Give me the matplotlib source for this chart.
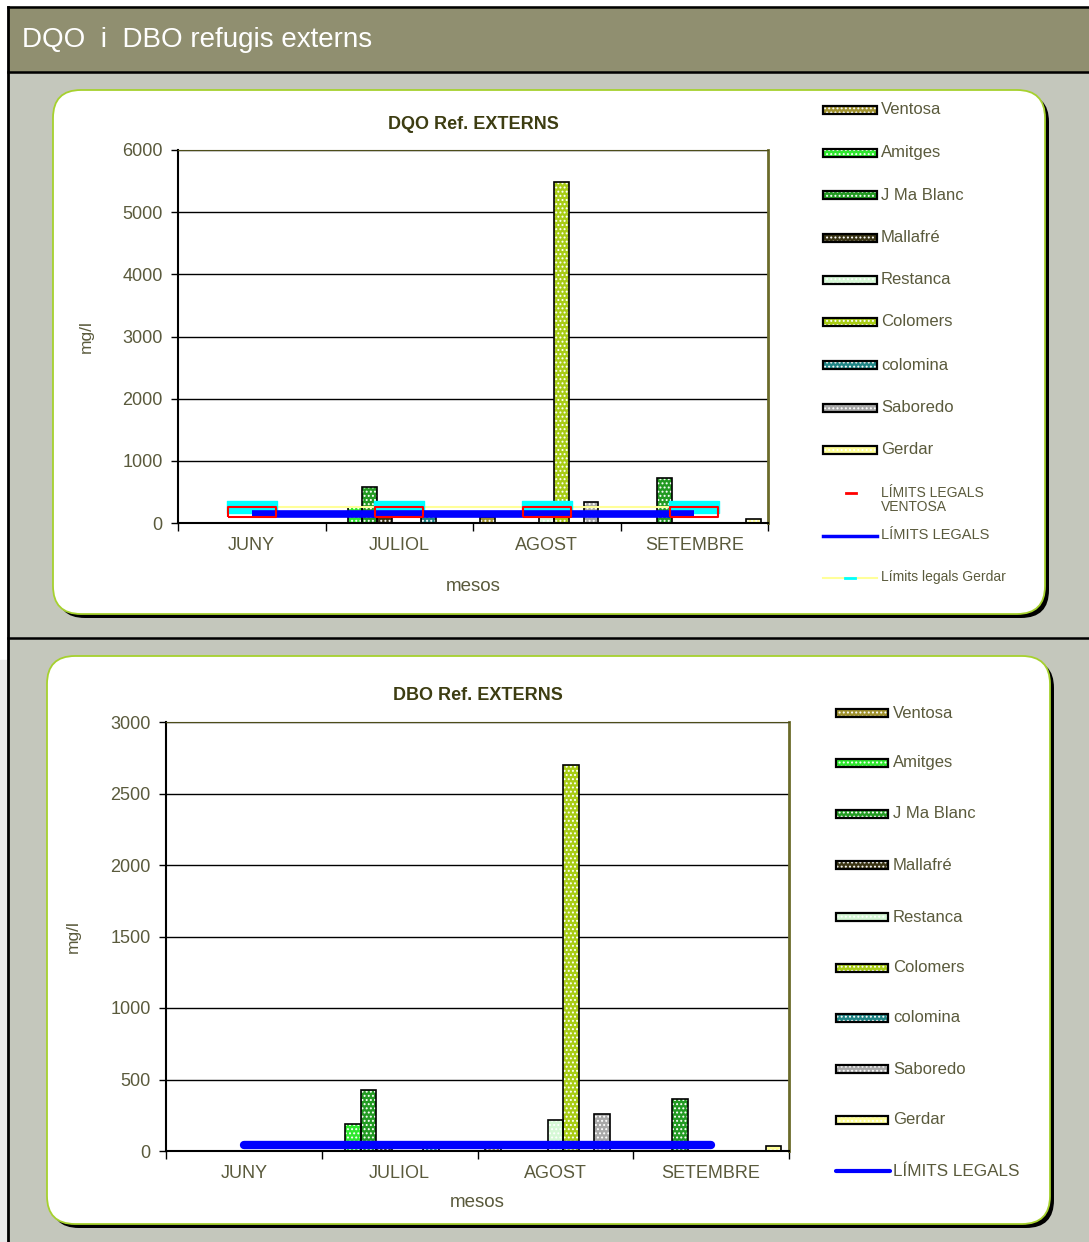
import numpy as np
import matplotlib
matplotlib.use("Agg")
import matplotlib.pyplot as plt
from matplotlib.patches import FancyBboxPatch, Rectangle

plt.rcParams['font.family'] = ['Liberation Sans', 'DejaVu Sans']
plt.rcParams['hatch.linewidth'] = 0.9

W, H = 1089, 1242

# categories and series
months = ['JUNY', 'JULIOL', 'AGOST', 'SETEMBRE']
stations = ['Ventosa', 'Amitges', 'J Ma Blanc', 'Mallafré', 'Restanca',
            'Colomers', 'colomina', 'Saboredo', 'Gerdar']
colors = ['#a0922e', '#2ee82e', '#229a22', '#3a3414', '#d6f8d6',
          '#a8cc14', '#1f8585', '#a8a8a8', '#ffff99']

# DQO (mg/l)
dqo_ventosa = [0, 0, 100, 0]
dqo_amitges = [0, 250, 0, 0]
dqo_jmablanc = [0, 580, 0, 720]
dqo_mallafre = [0, 100, 0, 0]
dqo_restanca = [0, 0, 120, 0]
dqo_colomers = [0, 0, 5480, 0]
dqo_colomina = [0, 110, 0, 0]
dqo_saboredo = [0, 0, 330, 0]
dqo_gerdar = [0, 0, 0, 60]
dqo_limit = [150, 150, 150, 150]
dqo_limit_ventosa = [180, 180, 180, 180]
dqo_limit_gerdar = [250, 250, 250, 250]

# DBO (mg/l)
dbo_ventosa = [0, 0, 20, 0]
dbo_amitges = [0, 190, 0, 0]
dbo_jmablanc = [0, 430, 0, 365]
dbo_mallafre = [0, 20, 0, 0]
dbo_restanca = [0, 0, 220, 0]
dbo_colomers = [0, 0, 2700, 0]
dbo_colomina = [0, 20, 0, 0]
dbo_saboredo = [0, 0, 260, 0]
dbo_gerdar = [0, 0, 0, 35]
dbo_limit = [40, 40, 40, 40]

dqo_series = [dqo_ventosa, dqo_amitges, dqo_jmablanc, dqo_mallafre, dqo_restanca,
              dqo_colomers, dqo_colomina, dqo_saboredo, dqo_gerdar]
dbo_series = [dbo_ventosa, dbo_amitges, dbo_jmablanc, dbo_mallafre, dbo_restanca,
              dbo_colomers, dbo_colomina, dbo_saboredo, dbo_gerdar]

TXT = '#5a5a3c'
TITLE = '#3d3d12'


def px_rect(x0, y0, x1, y1):
    return [x0 / W, 1 - y1 / H, (x1 - x0) / W, (y1 - y0) / H]


fig = plt.figure(figsize=(W / 100, H / 100), dpi=100)

# background, header and panels drawn in pixel coordinates
bg = fig.add_axes([0, 0, 1, 1], zorder=0)
bg.set_xlim(0, W)
bg.set_ylim(H, 0)
bg.axis('off')
bg.add_patch(Rectangle((0, 0), W, H, color='white'))
bg.add_patch(Rectangle((0, 660), 8, H - 660, color='#e9e9e9'))
bg.add_patch(Rectangle((8, 7), W - 8, H - 7, color='#c4c7bc'))
bg.add_patch(Rectangle((8, 7), W - 8, 65, color='#908f70'))
bg.plot([8, W], [7, 7], color='black', lw=1.8)
bg.plot([8, W], [72, 72], color='black', lw=1.8)
bg.plot([8, 8], [7, H], color='black', lw=2)
bg.plot([8, W], [638, 638], color='black', lw=1.8)
bg.text(22, 40, 'DQO  i  DBO refugis externs', color='white', fontsize=20,
        va='center', ha='left')

for (x0, y0, x1, y1) in [(53, 90, 1045, 614), (47, 656, 1050, 1224)]:
    bg.add_patch(FancyBboxPatch((x0 + 4, y0 + 4), x1 - x0, y1 - y0,
                                boxstyle='round,pad=0,rounding_size=28',
                                facecolor='black', edgecolor='none'))
    bg.add_patch(FancyBboxPatch((x0, y0), x1 - x0, y1 - y0,
                                boxstyle='round,pad=0,rounding_size=28',
                                facecolor='white', edgecolor='#a6d12e', lw=1.3))


def swatch(x, y, w, h, color):
    bg.add_patch(Rectangle((x, y - h / 2), w, h, facecolor=color, edgecolor='white',
                           hatch='....', lw=0))
    bg.add_patch(Rectangle((x, y - h / 2), w, h, facecolor='none', edgecolor='black',
                           lw=1.6))


def draw_bars(ax, series):
    x = np.arange(len(months))
    for j, vals in enumerate(series):
        pos = x + (j - 4) * 0.1
        ax.bar(pos, vals, 0.1, color=colors[j], edgecolor='white', hatch='....',
               lw=0, zorder=2)
        ax.bar(pos, vals, 0.1, facecolor='none', edgecolor='black', lw=1.2, zorder=2.1)


def style_axes(ax, yticks, title, title_pad, ylab_x, xlab_pad):
    ax.set_xlim(-0.5, 3.5)
    ax.set_ylim(yticks[0], yticks[-1])
    ax.set_yticks(yticks)
    ax.set_xticks(range(len(months)))
    ax.set_xticklabels(months)
    ax.set_xticks(np.arange(-0.5, 4, 1), minor=True)
    ax.tick_params(axis='x', which='major', length=0, pad=10, labelsize=13,
                   labelcolor=TXT)
    ax.tick_params(axis='x', which='minor', length=6, width=1, direction='out')
    ax.tick_params(axis='y', length=5, width=1, direction='out', pad=6,
                   labelsize=13, labelcolor=TXT)
    ax.yaxis.grid(True, color='black', lw=1)
    ax.set_axisbelow(True)
    ax.spines['left'].set_color('black')
    ax.spines['bottom'].set_color('black')
    ax.spines['left'].set_linewidth(1.5)
    ax.spines['bottom'].set_linewidth(1.5)
    ax.spines['top'].set_color('#4d4d1a')
    ax.spines['right'].set_color('#6b6b2a')
    ax.spines['right'].set_linewidth(2)
    ax.set_title(title, fontsize=13, fontweight='bold', color=TITLE, pad=title_pad)
    ax.set_xlabel('mesos', fontsize=13.5, color=TXT, labelpad=xlab_pad)
    ax.set_ylabel('mg/l', fontsize=12.5, color=TXT)
    ax.yaxis.set_label_coords(ylab_x, 0.5)


# ---- DQO chart ----
ax1 = fig.add_axes(px_rect(178, 150, 768, 523), zorder=1)
draw_bars(ax1, dqo_series)
xc = np.arange(len(months))
box_v = [(-2.4, -0.5), (2.4, -0.5), (2.4, 0.5), (-2.4, 0.5), (-2.4, -0.5)]
box_g = [(-2.25, -0.5), (2.25, -0.5), (2.25, 0.5), (-2.25, 0.5), (-2.25, -0.5)]
ax1.plot(xc, dqo_limit_gerdar, color='#ffff99', lw=1.5, zorder=3)
ax1.plot(xc, dqo_limit_gerdar, ls='none', marker=box_g, markersize=36,
         markerfacecolor='#00ffff', markeredgecolor='#00ffff', zorder=3.1)
ax1.plot(xc, dqo_limit, color='#0000ff', lw=5.5, solid_capstyle='butt', zorder=4)
ax1.plot(xc, dqo_limit_ventosa, ls='none', marker=box_v, markersize=34.5,
         markerfacecolor='none', markeredgecolor='#ff0000', mew=1.5, zorder=5)
style_axes(ax1, list(range(0, 6001, 1000)), 'DQO Ref. EXTERNS', 15, -0.143, 17.5)

leg1_y = [110, 153, 195, 238, 280, 322, 365, 408, 450]
for j, name in enumerate(stations):
    swatch(823, leg1_y[j], 54, 8, colors[j])
    bg.text(881, leg1_y[j], name, fontsize=12, color=TXT, va='center', ha='left')
bg.plot([846, 856], [493, 493], color='#ff0000', lw=2)
bg.text(881, 500, 'LÍMITS LEGALS\nVENTOSA', fontsize=10, color=TXT, va='center',
        ha='left', linespacing=1.05)
bg.plot([823, 877], [536, 536], color='#0000ff', lw=2.5)
bg.text(881, 535, 'LÍMITS LEGALS', fontsize=10.5, color=TXT, va='center', ha='left')
bg.plot([823, 877], [578, 578], color='#ffff99', lw=1.5)
bg.plot([845, 855], [578, 578], color='#00ffff', lw=2)
bg.text(881, 577, 'Límits legals Gerdar', fontsize=10, color=TXT, va='center',
        ha='left')

# ---- DBO chart ----
ax2 = fig.add_axes(px_rect(166, 722, 789, 1151), zorder=1)
draw_bars(ax2, dbo_series)
ax2.plot(xc, dbo_limit, color='#0000ff', lw=6, solid_capstyle='round', zorder=4)
style_axes(ax2, list(range(0, 3001, 500)), 'DBO Ref. EXTERNS', 16, -0.1375, 9)

leg2_y = [713, 763, 814, 865, 917, 968, 1018, 1069, 1120]
for j, name in enumerate(stations):
    swatch(836, leg2_y[j], 52, 8, colors[j])
    bg.text(893, leg2_y[j], name, fontsize=12, color=TXT, va='center', ha='left')
bg.plot([836, 890], [1171, 1171], color='#0000ff', lw=3, solid_capstyle='round')
bg.text(893, 1171, 'LÍMITS LEGALS', fontsize=12.3, color=TXT, va='center', ha='left')

fig.savefig('out.png', dpi=100)
